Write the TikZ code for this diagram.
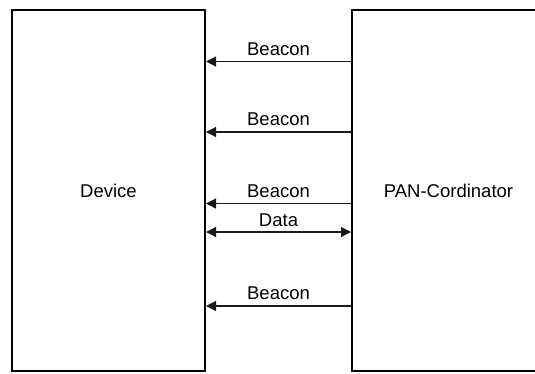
\documentclass[tikz,border=0pt]{standalone}
\usepackage{fontspec}
\setmainfont{Liberation Sans}
\usetikzlibrary{arrows.meta}
\begin{document}
\begin{tikzpicture}[x=1pt,y=-1pt,
  boxstyle/.style={draw=black, line width=2pt, rectangle, inner sep=0pt, font=\fontsize{18.5}{20}\selectfont},
  msg/.style={draw=black!90, line width=1.2pt, -{Triangle[length=10pt,width=10pt]}},
  bmsg/.style={draw=black!90, line width=1.2pt, {Triangle[length=10pt,width=10pt]}-{Triangle[length=10pt,width=10pt]}},
  lbl/.style={anchor=base, inner sep=0pt, font=\fontsize{18.5}{20}\selectfont}]
\useasboundingbox (0,0) rectangle (535,373);
\begin{scope}
\clip (0,0) rectangle (535,373);
\node[boxstyle, minimum width=193pt, minimum height=361pt] (dev) at (108.5,190.5) {Device};
\node[boxstyle, minimum width=193pt, minimum height=361pt] (pan) at (448.5,190.5) {};
\end{scope}
\node[font=\fontsize{18.5}{20}\selectfont] (pantext) at (448.5,190.5) {PAN-Cordinator};
\coordinate (r1) at (0,61.5);
\coordinate (r2) at (0,132);
\coordinate (r3) at (0,203.5);
\coordinate (r4) at (0,232);
\coordinate (r5) at (0,306);
\draw[msg] (pan.west |- r1) -- (dev.east |- r1) node[midway, lbl, yshift=6.5pt] (l1) {Beacon};
\draw[msg] (pan.west |- r2) -- (dev.east |- r2) node[midway, lbl, yshift=6.5pt] (l2) {Beacon};
\draw[msg] (pan.west |- r3) -- (dev.east |- r3) node[midway, lbl, yshift=6.5pt] (l3) {Beacon};
\draw[bmsg] (dev.east |- r4) -- (pan.west |- r4) node[midway, lbl, yshift=5.5pt] (l4) {Data};
\draw[msg] (pan.west |- r5) -- (dev.east |- r5) node[midway, lbl, yshift=6.5pt] (l5) {Beacon};
\end{tikzpicture}
\end{document}
